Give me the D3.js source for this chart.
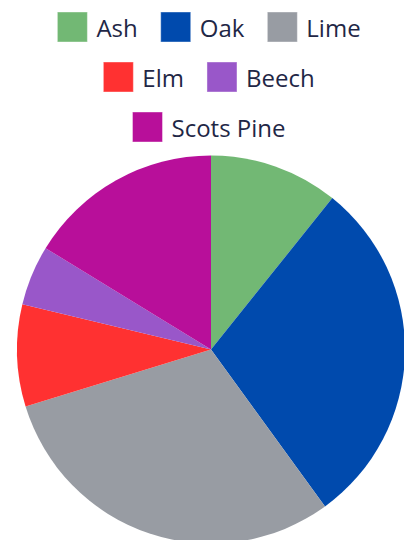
<!DOCTYPE html>
<html>
<head>
<meta charset="utf-8">
<script src="https://cdn.jsdelivr.net/npm/d3@7"></script>
<style>
  body { margin: 0; background: #fff; }
  svg { display: block; }
</style>
</head>
<body>
<svg id="chart" width="404" height="540"></svg>
<script>
// tree species and their share
const species = ["Ash", "Oak", "Lime", "Elm", "Beech", "Scots Pine"];
const counts = [43, 117, 121, 34, 20, 65];
const colours = ["#72b874", "#004aad", "#989ca3", "#ff3131", "#9957c9", "#b80f9a"];

const width = 404, height = 540;
const svg = d3.select("#chart");

const data = species.map((s, i) => ({ name: s, value: counts[i], colour: colours[i] }));

// pie
const cx = 211, cy = 349.5, radius = 194;

const pie = d3.pie()
  .value(d => d.value)
  .sort(null);

const arc = d3.arc()
  .innerRadius(0)
  .outerRadius(radius);

svg.append("g")
  .attr("transform", `translate(${cx},${cy})`)
  .selectAll("path")
  .data(pie(data))
  .join("path")
  .attr("d", arc)
  .attr("fill", d => d.data.colour);

// legend, wrapped into centred rows
const box = 30, textGap = 9, itemGap = 23, rowHeight = 50, maxRow = 360;
const legendCentre = 209, legendTop = 12;
const font = "'Open Sans', sans-serif", fontSize = 24;

const legend = svg.append("g").attr("class", "legend");

// measure label widths first
const items = data.map(d => {
  const t = legend.append("text")
    .attr("font-family", font)
    .attr("font-size", fontSize)
    .text(d.name);
  const w = t.node().getComputedTextLength();
  t.remove();
  return { d: d, w: box + textGap + w };
});

let rows = [[]], rowW = [0];
items.forEach(it => {
  let r = rows.length - 1;
  let next = rowW[r] + (rows[r].length ? itemGap : 0) + it.w;
  if (rows[r].length && next > maxRow) {
    rows.push([]); rowW.push(0); r++;
    next = it.w;
  }
  rows[r].push(it);
  rowW[r] = next;
});

rows.forEach((row, ri) => {
  let x = legendCentre - rowW[ri] / 2;
  const y = legendTop + ri * rowHeight;
  row.forEach(it => {
    legend.append("rect")
      .attr("x", x)
      .attr("y", y)
      .attr("width", box)
      .attr("height", box)
      .attr("fill", it.d.colour)
      .attr("stroke", "#ffffff")
      .attr("stroke-opacity", 0.4)
      .attr("stroke-width", 1);
    legend.append("text")
      .attr("x", x + box + textGap)
      .attr("y", y + box / 2 + 9.5)
      .attr("font-family", font)
      .attr("font-size", fontSize)
      .attr("fill", "#1f2746")
      .text(it.d.name);
    x += it.w + itemGap;
  });
});
</script>
</body>
</html>
